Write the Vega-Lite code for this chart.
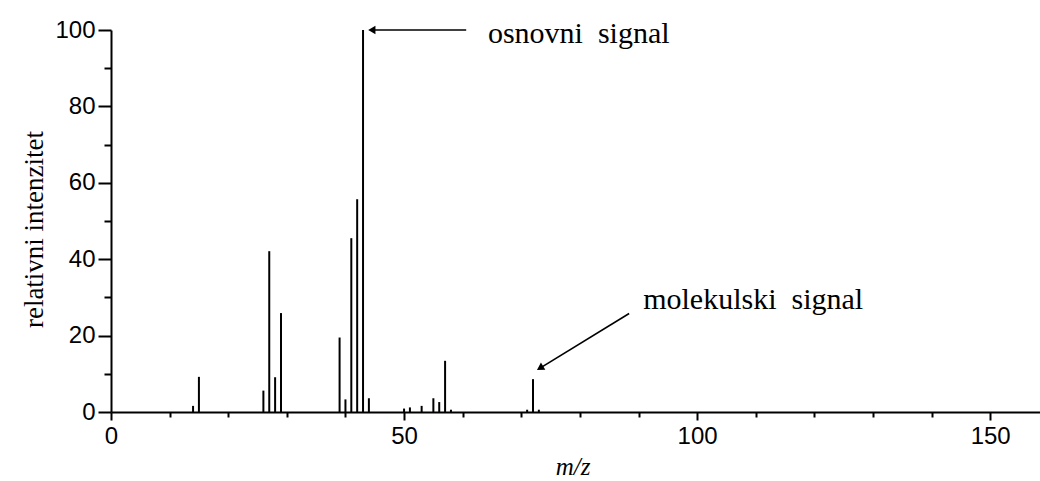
{
  "$schema": "https://vega.github.io/schema/vega-lite/v6.json",
  "width": 929,
  "height": 382,
  "autosize": {"type": "none"},
  "padding": {"left": 111, "top": 30, "right": 0, "bottom": 69},
  "background": "white",
  "config": {
    "view": {"stroke": null},
    "axis": {
      "domainColor": "black",
      "tickColor": "black",
      "labelColor": "black",
      "titleColor": "black",
      "domainWidth": 2,
      "tickWidth": 2,
      "grid": false,
      "labelFont": "Liberation Sans",
      "labelFontSize": 24,
      "labelFlush": false,
      "labelOverlap": false,
      "titleFont": "Liberation Serif",
      "titleFontWeight": "normal"
    }
  },
  "datasets": {
    "peaks": [
      {"mz": 14, "intensity": 1.6},
      {"mz": 15, "intensity": 9.2},
      {"mz": 26, "intensity": 5.6},
      {"mz": 27, "intensity": 42.1},
      {"mz": 28, "intensity": 9.1},
      {"mz": 29, "intensity": 25.9},
      {"mz": 39, "intensity": 19.5},
      {"mz": 40, "intensity": 3.3},
      {"mz": 41, "intensity": 45.5},
      {"mz": 42, "intensity": 55.7},
      {"mz": 43, "intensity": 100},
      {"mz": 44, "intensity": 3.6},
      {"mz": 50, "intensity": 0.9},
      {"mz": 51, "intensity": 1.2},
      {"mz": 53, "intensity": 1.6},
      {"mz": 55, "intensity": 3.6},
      {"mz": 56, "intensity": 2.6},
      {"mz": 57, "intensity": 13.4},
      {"mz": 58, "intensity": 0.6},
      {"mz": 71, "intensity": 0.6},
      {"mz": 72, "intensity": 8.6},
      {"mz": 73, "intensity": 0.6}
    ],
    "notes": [
      {"label": "osnovni\u00a0\u00a0signal", "kind": "base", "text_mz": 64.3, "text_int": 96.5, "tail_mz": 60.6, "tail_int": 100, "head_mz": 44.5, "head_int": 100},
      {"label": "molekulski\u00a0\u00a0signal", "kind": "molecular", "text_mz": 90.8, "text_int": 26.9, "tail_mz": 88.4, "tail_int": 25.8, "head_mz": 73.2, "head_int": 11.5}
    ]
  },
  "layer": [
    {
      "data": {"name": "peaks"},
      "mark": {"type": "rule", "color": "black", "strokeWidth": 2},
      "encoding": {
        "x": {
          "field": "mz", "type": "quantitative",
          "scale": {"domain": [0, 158.5], "nice": false, "zero": false},
          "axis": {
            "orient": "bottom", "values": [0, 50, 100, 150], "tickSize": 8, "labelPadding": 4,
            "title": "m/z", "titleFontStyle": "italic", "titleFontSize": 25,
            "titleX": 461.5, "titleY": 62, "titleBaseline": "alphabetic", "titleAlign": "center"
          }
        },
        "y": {
          "field": "intensity", "type": "quantitative",
          "scale": {"domain": [0, 100], "nice": false},
          "axis": {
            "orient": "left", "values": [0, 20, 40, 60, 80, 100], "tickSize": 13, "labelPadding": 3,
            "title": "relativni intenzitet", "titleFontSize": 27, "titleAngle": -90,
            "titleX": -69, "titleY": 199, "titleBaseline": "alphabetic", "titleAlign": "center"
          }
        },
        "y2": {"datum": 0}
      }
    },
    {
      "data": {"name": "peaks"},
      "mark": {"type": "point", "opacity": 0},
      "encoding": {
        "x": {
          "field": "mz", "type": "quantitative",
          "axis": {"orient": "bottom", "values": [10, 20, 30, 40, 60, 70, 80, 90, 110, 120, 130, 140], "tickSize": 5, "labels": false, "domain": false, "title": null}
        },
        "y": {
          "field": "intensity", "type": "quantitative",
          "axis": {"orient": "left", "values": [10, 30, 50, 70, 90], "tickSize": 7, "labels": false, "domain": false, "title": null}
        }
      }
    },
    {
      "data": {"name": "notes"},
      "mark": {"type": "rule", "color": "black", "strokeWidth": 1.6},
      "encoding": {
        "x": {"field": "tail_mz", "type": "quantitative", "axis": null},
        "y": {"field": "tail_int", "type": "quantitative", "axis": null},
        "x2": {"field": "head_mz"},
        "y2": {"field": "head_int"}
      }
    },
    {
      "data": {"name": "notes"},
      "transform": [{"filter": "datum.kind === 'base'"}],
      "mark": {"type": "point", "shape": "triangle-left", "filled": true, "color": "black", "opacity": 1, "size": 70},
      "encoding": {
        "x": {"field": "head_mz", "type": "quantitative", "axis": null},
        "y": {"field": "head_int", "type": "quantitative", "axis": null}
      }
    },
    {
      "data": {"name": "notes"},
      "transform": [{"filter": "datum.kind === 'molecular'"}],
      "mark": {"type": "point", "shape": "triangle-up", "angle": 238.5, "filled": true, "color": "black", "opacity": 1, "size": 70},
      "encoding": {
        "x": {"field": "head_mz", "type": "quantitative", "axis": null},
        "y": {"field": "head_int", "type": "quantitative", "axis": null}
      }
    },
    {
      "data": {"name": "notes"},
      "mark": {"type": "text", "align": "left", "baseline": "alphabetic", "font": "Liberation Serif", "fontSize": 30, "color": "black"},
      "encoding": {
        "x": {"field": "text_mz", "type": "quantitative", "axis": null},
        "y": {"field": "text_int", "type": "quantitative", "axis": null},
        "text": {"field": "label"}
      }
    }
  ],
  "resolve": {"axis": {"x": "independent", "y": "independent"}}
}
